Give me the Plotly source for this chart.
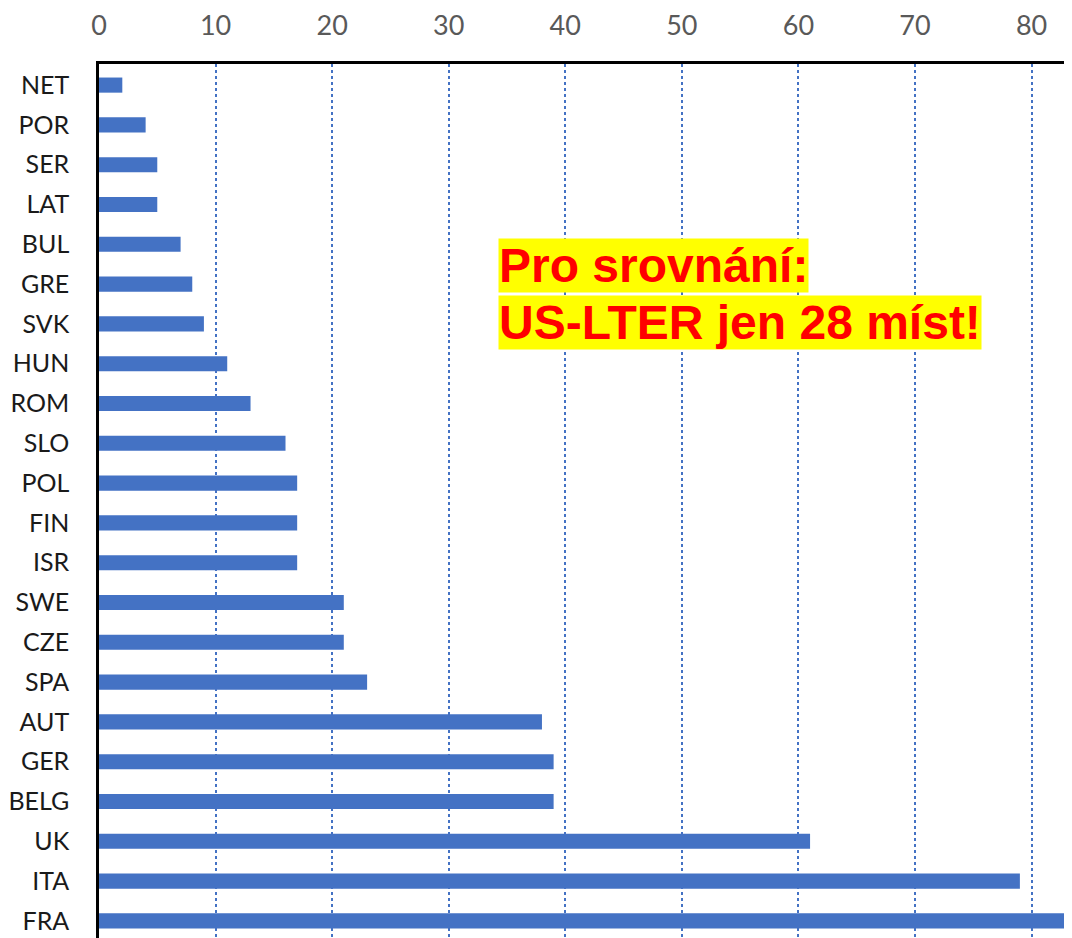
import plotly.graph_objects as go

countries = ["NET", "POR", "SER", "LAT", "BUL", "GRE", "SVK", "HUN", "ROM", "SLO", "POL",
             "FIN", "ISR", "SWE", "CZE", "SPA", "AUT", "GER", "BELG", "UK", "ITA", "FRA"]
sites = [2, 4, 5, 5, 7, 8, 9, 11, 13, 16, 17, 17, 17, 21, 21, 23, 38, 39, 39, 61, 79, 83]
x_ticks = [0, 10, 20, 30, 40, 50, 60, 70, 80]
note_lines = ["Pro srovnání:", "US-LTER jen 28 míst!"]

BLUE = "#4472C4"

fig = go.Figure(go.Bar(
    x=sites, y=countries, orientation="h",
    marker=dict(color=BLUE, line=dict(width=0)),
    width=0.38,
))

fig.update_layout(
    width=1064, height=930,
    margin=dict(l=90, r=0, t=54, b=0),
    plot_bgcolor="white", paper_bgcolor="white",
    showlegend=False,
    font=dict(family="Lato, Open Sans, sans-serif"),
)

fig.update_xaxes(
    side="top", range=[0, 83.47],
    tickvals=x_ticks, ticktext=[str(v) for v in x_ticks],
    tickfont=dict(size=27, color="#595959"),
    showline=True, linecolor="black", linewidth=2.5,
    showgrid=True, gridcolor=BLUE, gridwidth=2, griddash="dot",
    zeroline=False, ticks="", ticklabelstandoff=15,
)

fig.update_yaxes(
    categoryorder="array", categoryarray=countries,
    range=[21.43, -0.53],
    tickfont=dict(size=25, color="#1a1a1a"),
    showline=True, linecolor="black", linewidth=2.5,
    showgrid=False, zeroline=False, ticks="", ticklabelstandoff=22,
)

ann_y = [0.769, 0.704]
for txt, yy in zip(note_lines, ann_y):
    fig.add_annotation(
        x=34.2, xref="x", xanchor="left",
        y=yy, yref="paper", yanchor="middle",
        text=f"<b>{txt}</b>", showarrow=False,
        font=dict(family="Liberation Sans, Arial, sans-serif", size=48, color="#FF0000"),
        bgcolor="#FFFF00", borderpad=0,
    )

fig.write_html("out.html")
